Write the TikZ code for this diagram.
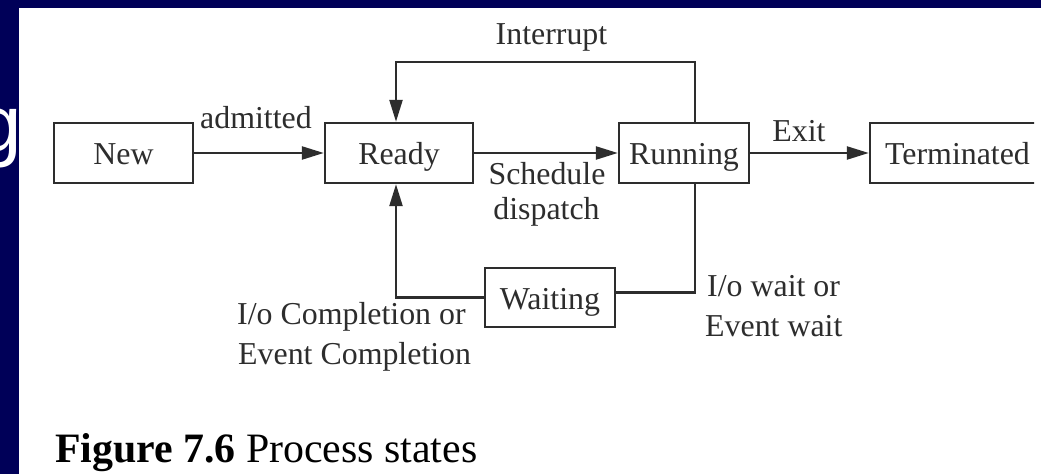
\documentclass[tikz,border=0pt]{standalone}
\usepackage{fontspec}
\setmainfont{Liberation Serif}
\newfontfamily\titlefont{Liberation Sans}
\usetikzlibrary{arrows.meta}
\definecolor{slidebg}{RGB}{0,0,88}
\definecolor{ink}{RGB}{45,45,45}
\begin{document}
\begin{tikzpicture}[x=1bp,y=-1bp,
  txt/.style={font=\fontsize{32}{38}\selectfont, text=ink},
  state/.style={txt, draw=ink, line width=2.4bp, minimum height=60bp,
    inner sep=0pt, text height=24bp, text depth=0bp},
  lbl/.style={txt, inner sep=0pt},
  flow/.style={draw=ink, line width=2.4bp},
  arr/.style={flow, -{Triangle[length=22bp,width=13bp]}}]
\useasboundingbox (0,0) rectangle (1041,474);
% slide background and white figure panel
\fill[slidebg] (0,0) rectangle (1041,474);
\fill[white] (19,8) rectangle (1041,474);
% tail of the slide title
\begin{scope}
  \clip (0,0) rectangle (19,474);
  \node[anchor=base east, inner sep=0pt, text=white,
    font=\titlefont\fontsize{80}{90}\selectfont] (titletail) at (22,152) {g};
\end{scope}
\begin{scope}
  \clip (0,0) rectangle (1034,474);
  % states
  \node[state, minimum width=139bp] (New) at (123.5,153) {New};
  \node[state, minimum width=148bp] (Ready) at (399,153) {Ready};
  \node[state, minimum width=130bp] (Running) at (684,153) {Running};
  \node[state, minimum width=175bp] (Terminated) at (957.5,153) {Terminated};
  \node[state, minimum width=130bp, minimum height=59bp] (Waiting) at (550,297.5) {Waiting};
  % tap points of the loops
  \coordinate (rtap) at (695,0);
  \coordinate (qtap) at (396,0);
  \coordinate (ibar) at (0,62);
  % transitions
  \draw[arr] (New.east) -- (Ready.west);
  \draw[arr] (Ready.east) -- (Running.west);
  \draw[arr] (Running.east) -- (Terminated.west);
  \draw[arr] (Running.north -| rtap) |- (ibar -| qtap) -- (Ready.north -| qtap);
  \draw[flow] (Running.south -| rtap) |- ([yshift=5bp]Waiting.east);
  \draw[arr] (Waiting.west) -| (Ready.south -| qtap);
  % transition labels
  \node[lbl, anchor=base] (admitted) at (256,129) {admitted};
  \node[lbl, anchor=base] (interrupt) at (551.5,45) {Interrupt};
  \node[lbl, anchor=base] (exit) at (799,142) {Exit};
  \node[lbl, anchor=base] (schedule) at (547,185) {Schedule};
  \node[lbl, anchor=base] (dispatch) at (546.5,220) {dispatch};
  \node[lbl, anchor=base west] (iocomp) at (237,325) {I/o Completion or};
  \node[lbl, anchor=base west] (evcomp) at (238,365) {Event Completion};
  \node[lbl, anchor=base west] (iowait) at (707,297) {I/o wait or};
  \node[lbl, anchor=base west] (evwait) at (705,337) {Event wait};
\end{scope}
% caption
\node[anchor=base west, inner sep=0pt, text=black, font=\fontsize{42}{48}\selectfont]
  (caption) at (55,462) {\textbf{Figure 7.6} Process states};
\end{tikzpicture}
\end{document}
